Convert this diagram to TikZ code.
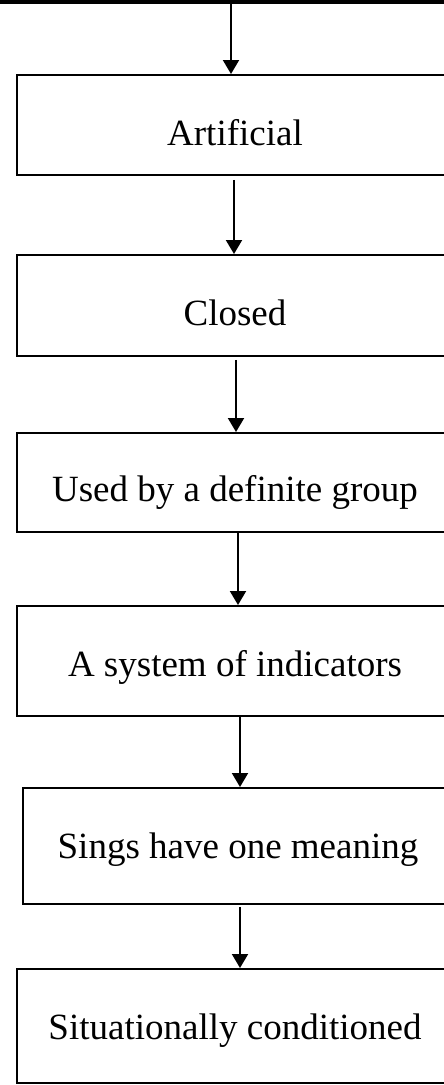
\documentclass[tikz,border=0pt]{standalone}
\usepackage{fontspec}
\setmainfont{Liberation Serif}
\usetikzlibrary{arrows.meta}
\tikzstyle{bx}=[draw=black,line width=1.8pt,inner sep=0pt,anchor=north,minimum width=436pt,text height=71pt,font=\fontsize{37}{44}\selectfont]
\tikzstyle{ar}=[line width=2pt,-{Triangle[width=16pt,length=14pt]}]

\begin{document}
\begin{tikzpicture}[x=1pt,y=-1pt]
\useasboundingbox (0,0) rectangle (444,1085);
\clip (0,0) rectangle (444,1085);
\draw[line width=4pt] (0,1.5) -- (444,1.5);
\coordinate (top) at (231,3);
\node[bx,text depth=29pt] (art) at (235,74) {Artificial};
\node[bx,text depth=30pt] (clo) at (235,254) {Closed};
\node[bx,text depth=30pt,text height=69pt] (grp) at (235,432) {Used by a definite group};
\node[bx,text depth=39pt] (ind) at (235,605) {A system of indicators};
\node[bx,text depth=45pt,minimum width=430pt] (sig) at (238,787) {Sings have one meaning};
\node[bx,text depth=43pt] (sit) at (235,968) {Situationally conditioned};
\draw[ar] (top) -- ([xshift=-4pt]art.north);
\draw[ar,shorten <=4pt] ([xshift=-1pt]art.south) -- ([xshift=-1pt]clo.north);
\draw[ar,shorten <=3pt] ([xshift=1pt]clo.south) -- ([xshift=1pt]grp.north);
\draw[ar] ([xshift=3pt]grp.south) -- ([xshift=3pt]ind.north);
\draw[ar] ([xshift=5pt]ind.south) -- ([xshift=2pt]sig.north);
\draw[ar,shorten <=2pt] ([xshift=2pt]sig.south) -- ([xshift=5pt]sit.north);
\end{tikzpicture}
\end{document}
